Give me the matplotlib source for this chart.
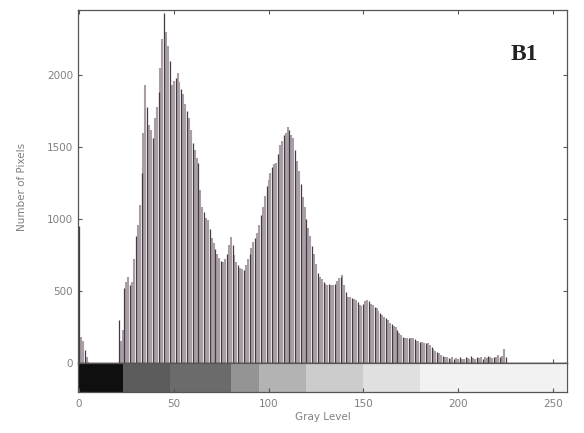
import numpy as np
import matplotlib
matplotlib.use("Agg")
import matplotlib.pyplot as plt

# pixel counts per gray level 0..255
counts = [
    950, 180, 150, 90, 40, 10, 0, 0, 0, 0,
    0, 0, 0, 0, 0, 0, 0, 0, 0, 0,
    0, 300, 150, 230, 520, 560, 600, 540, 560, 720,
    880, 960, 1100, 1320, 1600, 1930, 1780, 1650, 1620, 1560,
    1700, 1780, 1880, 2050, 2250, 2430, 2300, 2200, 2100, 1930,
    1960, 1980, 2010, 1950, 1900, 1870, 1800, 1750, 1700, 1620,
    1530, 1480, 1420, 1390, 1200, 1080, 1050, 1010, 990, 930,
    870, 830, 790, 760, 730, 710, 700, 720, 760, 820,
    875, 820, 750, 700, 680, 660, 650, 645, 680, 720,
    760, 800, 840, 870, 900, 960, 1030, 1080, 1160, 1230,
    1270, 1320, 1360, 1380, 1390, 1450, 1510, 1540, 1580, 1600,
    1640, 1620, 1580, 1560, 1480, 1400, 1330, 1240, 1150, 1080,
    1000, 940, 880, 810, 760, 690, 625, 600, 580, 560,
    545, 540, 545, 540, 540, 550, 570, 590, 600, 610,
    540, 490, 460, 455, 450, 445, 440, 420, 400, 395,
    410, 430, 440, 430, 410, 400, 390, 380, 360, 345,
    335, 320, 310, 295, 280, 270, 260, 250, 230, 210,
    195, 180, 175, 175, 170, 170, 170, 165, 155, 150,
    145, 145, 140, 140, 140, 125, 110, 100, 85, 75,
    70, 55, 50, 45, 40, 35, 30, 40, 25, 35,
    30, 45, 30, 25, 40, 35, 30, 50, 35, 30,
    40, 35, 45, 30, 40, 35, 50, 40, 35, 45,
    40, 55, 45, 50, 100, 40, 0, 0, 0, 0,
    0, 0, 0, 0, 0, 0, 0, 0, 0, 0,
    0, 0, 0, 0, 0, 0, 0, 0, 0, 0,
    0, 0, 0, 0, 0, 0,
]
levels = np.arange(len(counts))

# shade bands seen in the scanned gray-level strip
strip_edges = [0, 23, 48, 80, 95, 120, 150, 180, 257]
strip_shades = [0.06, 0.36, 0.42, 0.58, 0.7, 0.8, 0.88, 0.95]

x_ticks = [0, 50, 100, 150, 200, 250]
y_ticks = [0, 500, 1000, 1500, 2000]

tick_color = "#808080"

fig = plt.figure(figsize=(5.84, 4.33), dpi=100)
ax = fig.add_axes([0.1336, 0.1617, 0.8375, 0.815])
cb = fig.add_axes([0.1336, 0.0947, 0.8375, 0.067])

counts = np.array(counts)
dark = levels % 3 == 0
ax.vlines(levels[~dark], 0, counts[~dark], color="#a99ea6", lw=1.5)
ax.vlines(levels[dark], 0, counts[dark], color="#433b41", lw=0.9)
ax.axhline(0, color="#303030", lw=1.0)

ax.set_xlim(-0.5, 257.5)
ax.set_ylim(0, 2450)
ax.set_yticks(y_ticks)
ax.set_xticks(x_ticks)
ax.tick_params(axis="both", direction="in", length=3, color="#555555",
               labelsize=7.5, labelcolor=tick_color, top=True, right=True)
ax.tick_params(axis="x", labelbottom=False)
for s in ax.spines.values():
    s.set_color("#555555")
    s.set_linewidth(0.9)
ax.set_ylabel("Number of Pixels", fontsize=7.5, color=tick_color, labelpad=14)

ax.text(0.94, 0.875, "B1", transform=ax.transAxes, ha="right", va="center",
        fontsize=17, fontweight="bold", family="Liberation Serif", color="#222222")

# gray-level strip under the histogram
for i in range(len(strip_shades)):
    cb.axvspan(strip_edges[i], strip_edges[i + 1],
               color=str(strip_shades[i]), lw=0)
cb.set_xlim(-0.5, 257.5)
cb.set_ylim(0, 1)
cb.set_yticks([])
cb.set_xticks(x_ticks)
cb.tick_params(axis="x", direction="in", length=3, color="#555555",
               labelsize=7.5, labelcolor=tick_color, pad=5)
for s in cb.spines.values():
    s.set_color("#555555")
    s.set_linewidth(0.9)
cb.set_xlabel("Gray Level", fontsize=7.5, color=tick_color, labelpad=2)

fig.savefig("out.png", dpi=100)
